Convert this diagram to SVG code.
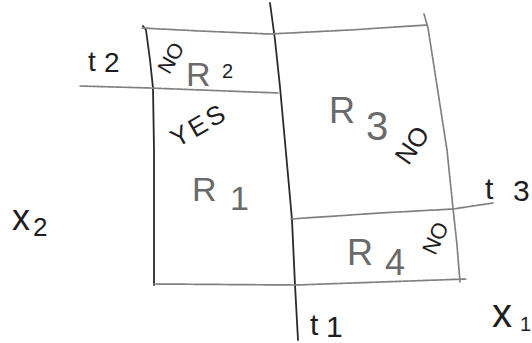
<svg xmlns="http://www.w3.org/2000/svg" width="532" height="343" viewBox="0 0 532 343">
<style>
.ln{fill:none;stroke-linecap:round;stroke-linejoin:round}
.dk{stroke:#2a2a2a;stroke-width:1.8}
.gr{stroke:#808080;stroke-width:1.7;stroke-dasharray:3 1}
.t{font-family:"Liberation Sans","DejaVu Sans",sans-serif;fill:#1e1e1e}
.g{fill:#6a6a6a}
</style>
<rect width="532" height="343" fill="#ffffff"/>
<g id="lines">
<path class="ln dk" d="M270,3 L275,40 L280,87 L288,175 L292,220 L295,285 L298,340"/>
<path class="ln dk" d="M143,26 L146,30 L150,60 L153,88 L154,150 L154,285"/>
<path class="ln gr" d="M142,28 L200,31 L270,34 L350,30 L427,25"/>
<path class="ln gr" d="M424,14 L428,28 L433,60 L447,150 L453,208 L457,245 L460,282"/>
<path class="ln gr" d="M80,86 L150,88 L278,93"/>
<path class="ln gr" d="M291,219 L380,213 L453,209 L493,203"/>
<path class="ln gr" d="M154,284 L296,285 L466,279"/>
</g>
<g id="axis-labels">
<text class="t" font-size="28" x="88 104" y="71 72">t2</text>
<text class="t" font-size="30" x="485 513" y="199 201">t3</text>
<text class="t" font-size="30" x="310 326" y="335 337">t1</text>
<text class="t" font-size="40" x="492" y="327">x</text>
<text class="t" font-size="20" x="520" y="331">1</text>
<text class="t" font-size="36" x="12" y="230">x</text>
<text class="t" font-size="26" x="33" y="236">2</text>
</g>
<g id="R2">
<text class="t" font-size="21" text-anchor="middle" x="171" y="65" transform="rotate(-60 171 58)">NO</text>
<text class="t g" font-size="34" x="186" y="86">R</text>
<text class="t" font-size="20" x="222" y="78">2</text>
</g>
<g id="R1">
<text class="t" font-size="26" letter-spacing="3" text-anchor="middle" x="199" y="134" transform="rotate(-30 199 125)">YES</text>
<text class="t g" font-size="34" x="192 230" y="201 210">R1</text>
</g>
<g id="R3">
<text class="t g" font-size="36" x="329" y="123">R</text>
<text class="t g" font-size="40" x="366" y="140">3</text>
<text class="t" font-size="26" text-anchor="middle" x="412" y="154" transform="rotate(-55 412 145)">NO</text>
</g>
<g id="R4">
<text class="t g" font-size="36" x="347" y="265">R</text>
<text class="t g" font-size="36" x="385" y="275">4</text>
<text class="t" font-size="22" text-anchor="middle" x="435" y="246" transform="rotate(-65 435 238)">NO</text>
</g>
</svg>
